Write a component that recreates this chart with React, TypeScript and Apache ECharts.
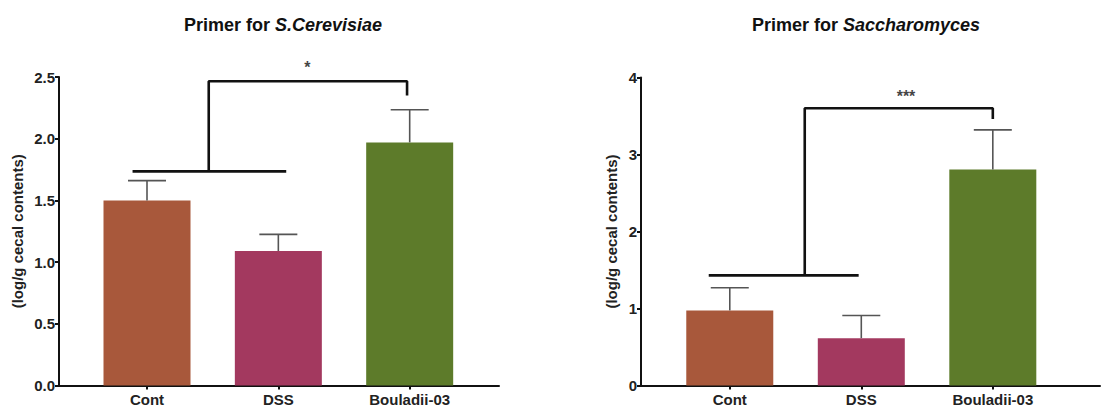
import React, { useEffect, useRef } from "react";
import * as echarts from "echarts";

const categories = ["Cont", "DSS", "Bouladii-03"];
const barColors = ["#a8583b", "#a3395f", "#5d7b2a"];

const leftMeans = [1.5, 1.09, 1.97];
const leftUpper = [1.66, 1.225, 2.235];
const rightMeans = [0.975, 0.615, 2.805];
const rightUpper = [1.27, 0.91, 3.32];

// significance brackets: [x, y] in data units
const leftBase = [[-0.11, 1.735], [1.06, 1.735]];
const leftBracket = [[0.47, 1.735], [0.47, 2.465], [1.98, 2.465], [1.98, 2.35]];
const leftStar = [[1.22, 2.58]];
const leftStarText = "*";

const rightBase = [[-0.16, 1.43], [0.98, 1.43]];
const rightBracket = [[0.57, 1.43], [0.57, 3.6], [2.0, 3.6], [2.0, 3.46]];
const rightStar = [[1.34, 3.75]];
const rightStarText = "***";

const FONT = "Liberation Sans, Arial, sans-serif";

export default function App() {
  const ref = useRef<HTMLDivElement>(null);
  useEffect(() => {
    const chart = echarts.init(ref.current!, null, { renderer: "svg" });

    const xAxis = (gridIndex: number, min: number, max: number) => ({
      type: "value",
      gridIndex,
      min,
      max,
      splitLine: { show: false },
      axisLine: { show: true, onZero: false, lineStyle: { color: "#111", width: 2 } },
      axisTick: { show: true, customValues: [0, 1, 2], length: 4, lineStyle: { color: "#111", width: 2 } },
      axisLabel: {
        customValues: [0, 1, 2],
        formatter: (v: number) => categories[Math.round(v)] ?? "",
        color: "#222",
        fontWeight: "bold",
        fontSize: 15,
        fontFamily: FONT,
        margin: 6,
      },
    });

    const yAxis = (gridIndex: number, max: number, interval: number, decimals: number, gap: number) => ({
      type: "value",
      gridIndex,
      min: 0,
      max,
      interval,
      name: "(log/g cecal contents)",
      nameLocation: "middle",
      nameRotate: 90,
      nameGap: gap,
      nameTextStyle: { color: "#222", fontWeight: "bold", fontSize: 15, fontFamily: FONT },
      splitLine: { show: false },
      axisLine: { show: true, onZero: false, lineStyle: { color: "#111", width: 2 } },
      axisTick: { show: true, length: 4, lineStyle: { color: "#111", width: 2 } },
      axisLabel: {
        formatter: (v: number) => v.toFixed(decimals),
        color: "#222",
        fontWeight: "bold",
        fontSize: 15,
        fontFamily: FONT,
        margin: 4,
      },
    });

    const bars = (idx: number, means: number[]) => ({
      type: "bar",
      xAxisIndex: idx,
      yAxisIndex: idx,
      barWidth: 87,
      data: means.map((m, i) => ({ value: [i, m], itemStyle: { color: barColors[i] } })),
    });

    const errs = (idx: number, means: number[], upper: number[]) => ({
      type: "custom",
      xAxisIndex: idx,
      yAxisIndex: idx,
      data: means.map((m, i) => [i, m, upper[i]]),
      renderItem: (params: any, api: any) => {
        const p0 = api.coord([api.value(0), api.value(1)]);
        const p1 = api.coord([api.value(0), api.value(2)]);
        const hw = 19;
        const style = { stroke: "#555", lineWidth: 1.6 };
        return {
          type: "group",
          children: [
            { type: "line", shape: { x1: p0[0], y1: p0[1], x2: p1[0], y2: p1[1] }, style },
            { type: "line", shape: { x1: p1[0] - hw, y1: p1[1], x2: p1[0] + hw, y2: p1[1] }, style },
          ],
        };
      },
      z: 5,
    });

    const line = (idx: number, data: number[][]) => ({
      type: "line",
      xAxisIndex: idx,
      yAxisIndex: idx,
      data,
      symbol: "none",
      clip: false,
      lineStyle: { color: "#111", width: 2.6 },
      z: 6,
    });

    const star = (idx: number, data: number[][], text: string) => ({
      type: "scatter",
      xAxisIndex: idx,
      yAxisIndex: idx,
      data,
      symbolSize: 0,
      clip: false,
      label: {
        show: true,
        position: "inside",
        formatter: text,
        color: "#111",
        fontWeight: "bold",
        fontSize: 16,
        fontFamily: FONT,
      },
    });

    const titleStyle = {
      fontFamily: FONT,
      fontWeight: "bold",
      fontSize: 18,
      color: "#111",
      rich: { i: { fontFamily: FONT, fontWeight: "bold", fontStyle: "italic", fontSize: 18, color: "#111" } },
    };

    chart.setOption({
      animation: false,
      backgroundColor: "#fff",
      title: [
        { text: "Primer for {i|S.Cerevisiae}", left: 278, top: 11, textAlign: "center", textStyle: titleStyle },
        { text: "Primer for {i|Saccharomyces}", left: 861, top: 11, textAlign: "center", textStyle: titleStyle },
      ],
      grid: [
        { left: 59, top: 77, width: 440, height: 308.5 },
        { left: 641, top: 77.5, width: 459, height: 308 },
      ],
      xAxis: [xAxis(0, -0.67, 2.68), xAxis(1, -0.675, 2.815)],
      yAxis: [yAxis(0, 2.5, 0.5, 1, 34), yAxis(1, 4, 1, 0, 22)],
      series: [
        bars(0, leftMeans),
        errs(0, leftMeans, leftUpper),
        line(0, leftBase),
        line(0, leftBracket),
        star(0, leftStar, leftStarText),
        bars(1, rightMeans),
        errs(1, rightMeans, rightUpper),
        line(1, rightBase),
        line(1, rightBracket),
        star(1, rightStar, rightStarText),
      ],
    });
    return () => chart.dispose();
  }, []);
  return (
    <div
      ref={ref}
      style={{ position: "fixed", left: 0, top: 0, width: 1101, height: 409, background: "#fff" }}
    />
  );
}
